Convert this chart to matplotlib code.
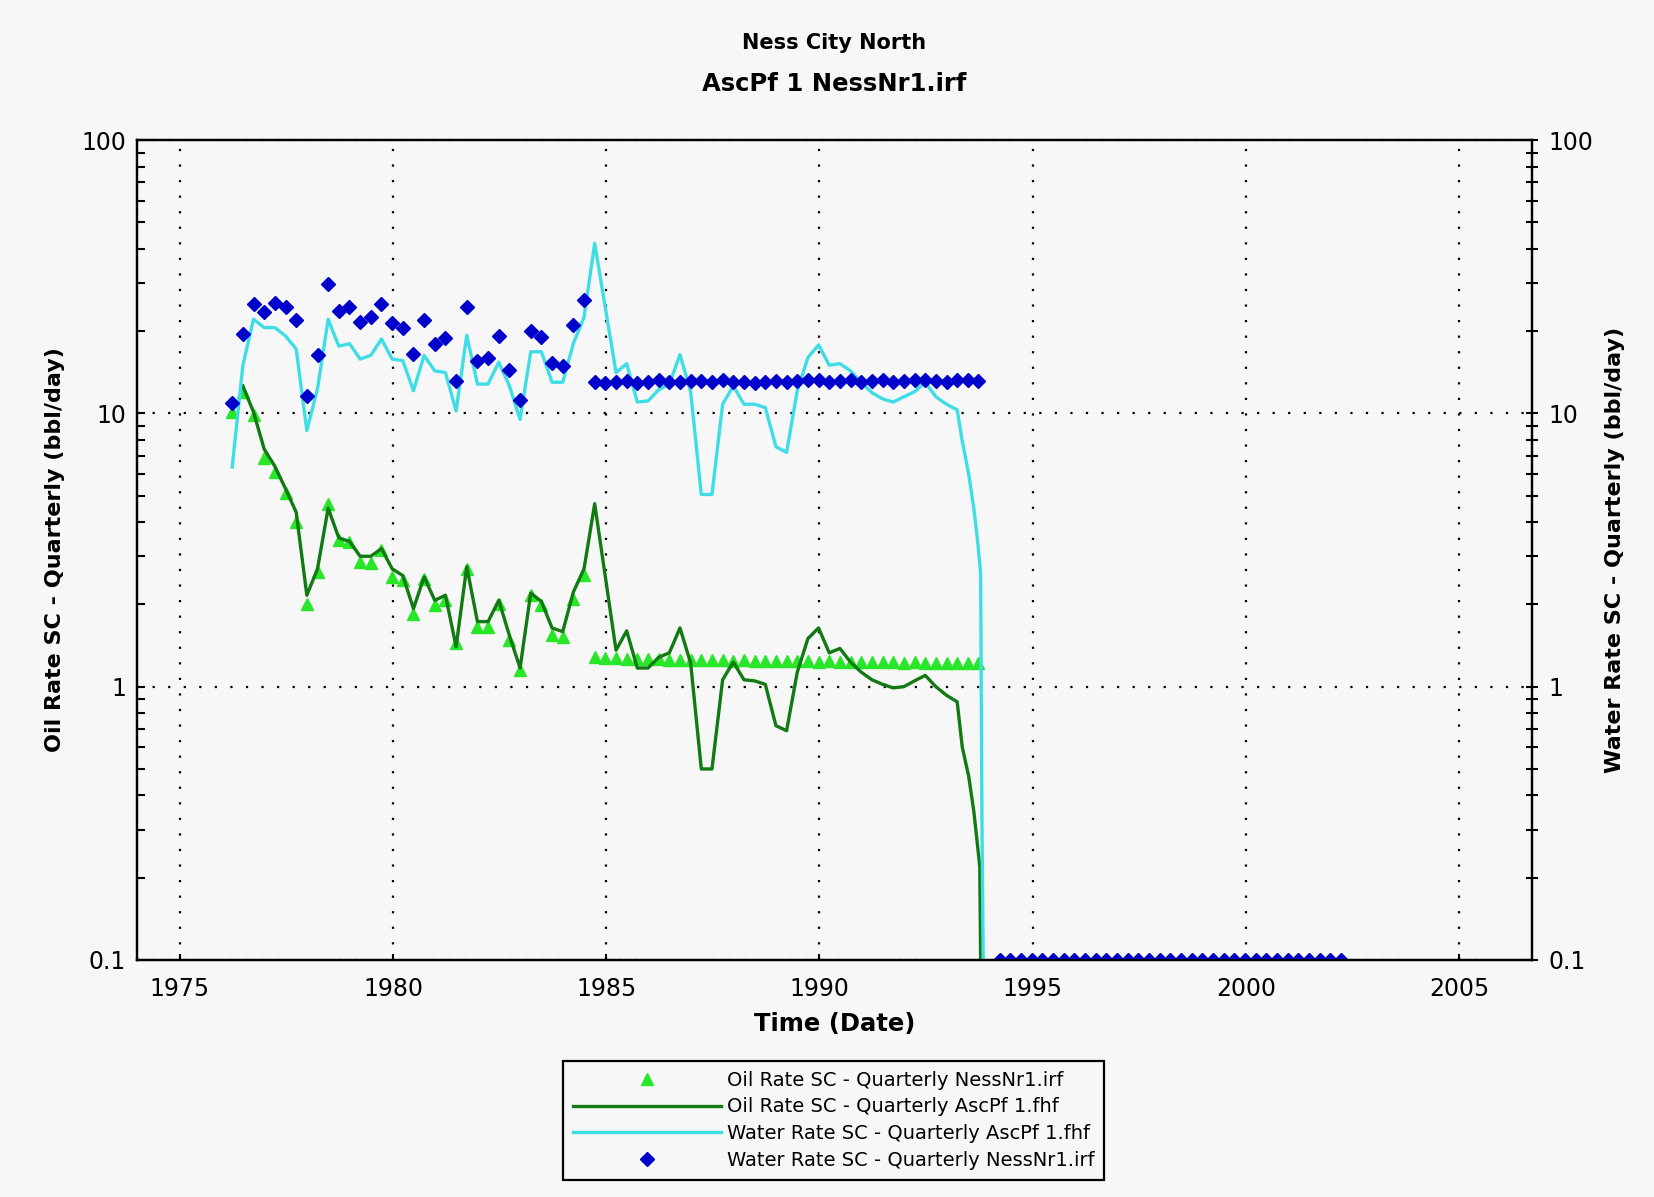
from matplotlib import pyplot as plt
from matplotlib.lines import Line2D
from matplotlib.ticker import FixedLocator, FuncFormatter, LogLocator, NullFormatter
import numpy as np

# quarterly report index -> decimal year
first_quarter = 1976.23
n_quarters = 105

# observed, NessNr1.irf  (quarters 0..70)
oil_obs = [10.1, 12.0, 9.9, 6.85, 6.1, 5.1, 4.0, 2.0, 2.63, 4.67,
           3.43, 3.38, 2.86, 2.84, 3.16, 2.52, 2.45, 1.85, 2.48, 1.99,
           2.07, 1.44, 2.70, 1.66, 1.66, 2.01, 1.48, 1.15, 2.16, 1.99,
           1.54, 1.52, 2.10, 2.56,
           1.28, 1.27, 1.27, 1.26, 1.26, 1.26, 1.26, 1.25, 1.25, 1.25,
           1.25, 1.25, 1.25, 1.24, 1.25, 1.24, 1.24, 1.24, 1.24, 1.24,
           1.24, 1.23, 1.24, 1.23, 1.23, 1.23, 1.23, 1.23, 1.23, 1.22,
           1.23, 1.22, 1.22, 1.22, 1.22, 1.22, 1.22]
water_obs = [10.9, 19.5, 25.1, 23.5, 25.3, 24.6, 22.0, 11.6, 16.3, 29.8,
             23.7, 24.6, 21.6, 22.5, 25.1, 21.5, 20.6, 16.5, 22.0, 18.0,
             18.9, 13.1, 24.6, 15.5, 16.0, 19.2, 14.4, 11.2, 20.0, 19.1,
             15.3, 14.9, 21.1, 26.0,
             13.0, 12.9, 13.0, 13.1, 12.9, 13.0, 13.2, 13.0, 13.0, 13.1,
             13.1, 13.0, 13.2, 13.0, 13.0, 12.9, 13.0, 13.1, 13.0, 13.1,
             13.2, 13.3, 13.0, 13.1, 13.2, 13.0, 13.1, 13.3, 13.0, 13.1,
             13.2, 13.3, 13.1, 13.0, 13.2, 13.3, 13.1]
# zero water reports after shut-in sit on the axis floor (quarters 72..104)
water_obs_late = [0.1, 0.1, 0.1, 0.1, 0.1, 0.1, 0.1, 0.1, 0.1, 0.1, 0.1,
                  0.1, 0.1, 0.1, 0.1, 0.1, 0.1, 0.1, 0.1, 0.1, 0.1, 0.1,
                  0.1, 0.1, 0.1, 0.1, 0.1, 0.1, 0.1, 0.1, 0.1, 0.1, 0.1]

# model, AscPf 1.fhf
model_quarters = list(range(0, 35)) + list(range(36, 69))
water_model = [6.36, 15.0, 22.1, 20.6, 20.6, 19.2, 17.2, 8.65, 12.3, 22.1,
               17.6, 18.0, 15.8, 16.3, 18.7, 15.8, 15.6, 12.1, 16.3, 14.3,
               14.1, 10.2, 19.3, 12.8, 12.8, 15.4, 12.6, 9.5, 16.8, 16.8,
               13.0, 13.0, 18.0, 22.5, 41.9,
               14.1, 15.2, 11.0, 11.1, 12.2, 12.8, 16.4, 12.0, 5.05, 5.05,
               10.8, 12.6, 10.8, 10.8, 10.5, 7.55, 7.2, 12.1, 16.0, 17.8,
               15.0, 15.2, 14.3, 13.0, 11.9, 11.3, 11.0, 11.5, 12.0, 13.0,
               11.5, 10.8, 10.3]
oil_model = [12.6, 10.1, 7.4, 6.4, 5.3, 4.35, 2.16, 2.7, 4.5,
             3.5, 3.4, 3.0, 3.0, 3.2, 2.7, 2.55, 1.93, 2.52, 2.07,
             2.16, 1.40, 2.75, 1.73, 1.73, 2.07, 1.54, 1.17, 2.2, 2.05,
             1.64, 1.59, 2.22, 2.7, 4.67,
             1.36, 1.60, 1.17, 1.17, 1.28, 1.33, 1.64, 1.22, 0.50, 0.50,
             1.06, 1.23, 1.06, 1.05, 1.02, 0.72, 0.69, 1.13, 1.50, 1.64,
             1.33, 1.38, 1.23, 1.13, 1.06, 1.02, 0.99, 1.0, 1.05, 1.10,
             1.0, 0.93, 0.88]
# final decline, reported monthly
water_tail_t = [1993.35, 1993.50, 1993.62, 1993.71, 1993.78, 1993.81, 1993.84]
water_tail = [7.9, 6.0, 4.5, 3.4, 2.6, 0.34, 0.1]
oil_tail_t = [1993.35, 1993.50, 1993.62, 1993.71, 1993.76, 1993.78]
oil_tail = [0.60, 0.47, 0.35, 0.26, 0.22, 0.1]

year_ticks = [1975, 1980, 1985, 1990, 1995, 2000, 2005]
rate_ticks = [0.1, 1, 10, 100]

bg = '#f7f7f7'
c_tri = '#28e628'
c_oil = '#127a12'
c_water = '#3fdde6'
c_dia = '#0000cc'


def rate_fmt(v, pos):
    return '%g' % v


def style_log(ax, direction):
    ax.set_yscale('log')
    ax.set_ylim(0.1, 100)
    ax.yaxis.set_major_locator(FixedLocator(rate_ticks))
    ax.yaxis.set_major_formatter(FuncFormatter(rate_fmt))
    ax.yaxis.set_minor_locator(LogLocator(base=10, subs=np.arange(2, 10)))
    ax.yaxis.set_minor_formatter(NullFormatter())
    ax.tick_params(axis='y', which='both', direction=direction, length=6,
                   width=1.5, labelsize=17, pad=8)


def main():
    qtime = first_quarter + 0.25 * np.arange(n_quarters)
    mq = np.array(model_quarters)

    fig = plt.figure(figsize=(16.54, 11.97), dpi=100, facecolor=bg)
    ax = fig.add_axes([0.0829, 0.198, 0.8431, 0.685], facecolor=bg)

    ax.plot(qtime[:71], oil_obs, ls='none', marker='^', ms=8.5,
            color=c_tri, zorder=3)
    ax.plot(np.concatenate([qtime[mq[1:]], oil_tail_t]), oil_model + oil_tail,
            color=c_oil, lw=2.4, zorder=4)
    ax.plot(np.concatenate([qtime[mq], water_tail_t]), water_model + water_tail,
            color=c_water, lw=2.4, zorder=5)
    ax.plot(qtime[:71], water_obs, ls='none', marker='D', ms=7,
            color=c_dia, zorder=6)
    ax.plot(qtime[72:105], water_obs_late, ls='none', marker='D', ms=7,
            color=c_dia, zorder=6)

    ax.set_xlim(1974.0, 2006.7)
    ax.set_xticks(year_ticks)
    ax.tick_params(axis='x', direction='in', length=4, width=1.5,
                   labelsize=17, pad=12)
    style_log(ax, 'in')
    ax.grid(True, which='major', color='black', lw=1.6, ls=(0, (1, 6)))
    for s in ax.spines.values():
        s.set_linewidth(1.6)

    ax2 = ax.twinx()
    style_log(ax2, 'inout')
    ax2.tick_params(axis='y', which='both', length=8)
    for s in ax2.spines.values():
        s.set_linewidth(1.6)

    cx = 0.0829 + 0.8431 / 2
    fig.text(cx, 1 - 43 / 1197, 'Ness City North', ha='center', va='center',
             fontsize=15, fontweight='bold')
    fig.text(cx, 1 - 84 / 1197, 'AscPf 1 NessNr1.irf', ha='center',
             va='center', fontsize=17.5, fontweight='bold')
    fig.text(cx, 1 - 1024 / 1197, 'Time (Date)', ha='center', va='center',
             fontsize=17.5, fontweight='bold')
    fig.text(0.0335, 0.5405, 'Oil Rate SC - Quarterly (bbl/day)', rotation=90,
             ha='center', va='center', fontsize=16, fontweight='bold')
    fig.text(0.9765, 0.5405, 'Water Rate SC - Quarterly (bbl/day)', rotation=90,
             ha='center', va='center', fontsize=16, fontweight='bold')

    handles = [
        Line2D([], [], ls='none', marker='^', ms=8.5, color=c_tri),
        Line2D([], [], color=c_oil, lw=2.4),
        Line2D([], [], color=c_water, lw=2.4),
        Line2D([], [], ls='none', marker='D', ms=7, color=c_dia),
    ]
    labels = ['Oil Rate SC - Quarterly NessNr1.irf',
              'Oil Rate SC - Quarterly AscPf 1.fhf',
              'Water Rate SC - Quarterly AscPf 1.fhf',
              'Water Rate SC - Quarterly NessNr1.irf']
    leg = fig.legend(handles, labels, loc='upper center',
                     bbox_to_anchor=(0.504, 1 - 1061 / 1197), fontsize=14,
                     handlelength=7.6, handletextpad=0.3, labelspacing=0.4,
                     borderpad=0.5, borderaxespad=0, numpoints=1,
                     fancybox=False, framealpha=1, facecolor=bg,
                     edgecolor='black')
    leg.get_frame().set_linewidth(1.6)

    fig.savefig('out.png', dpi=100, facecolor=bg)


if __name__ == "__main__":
    main()
